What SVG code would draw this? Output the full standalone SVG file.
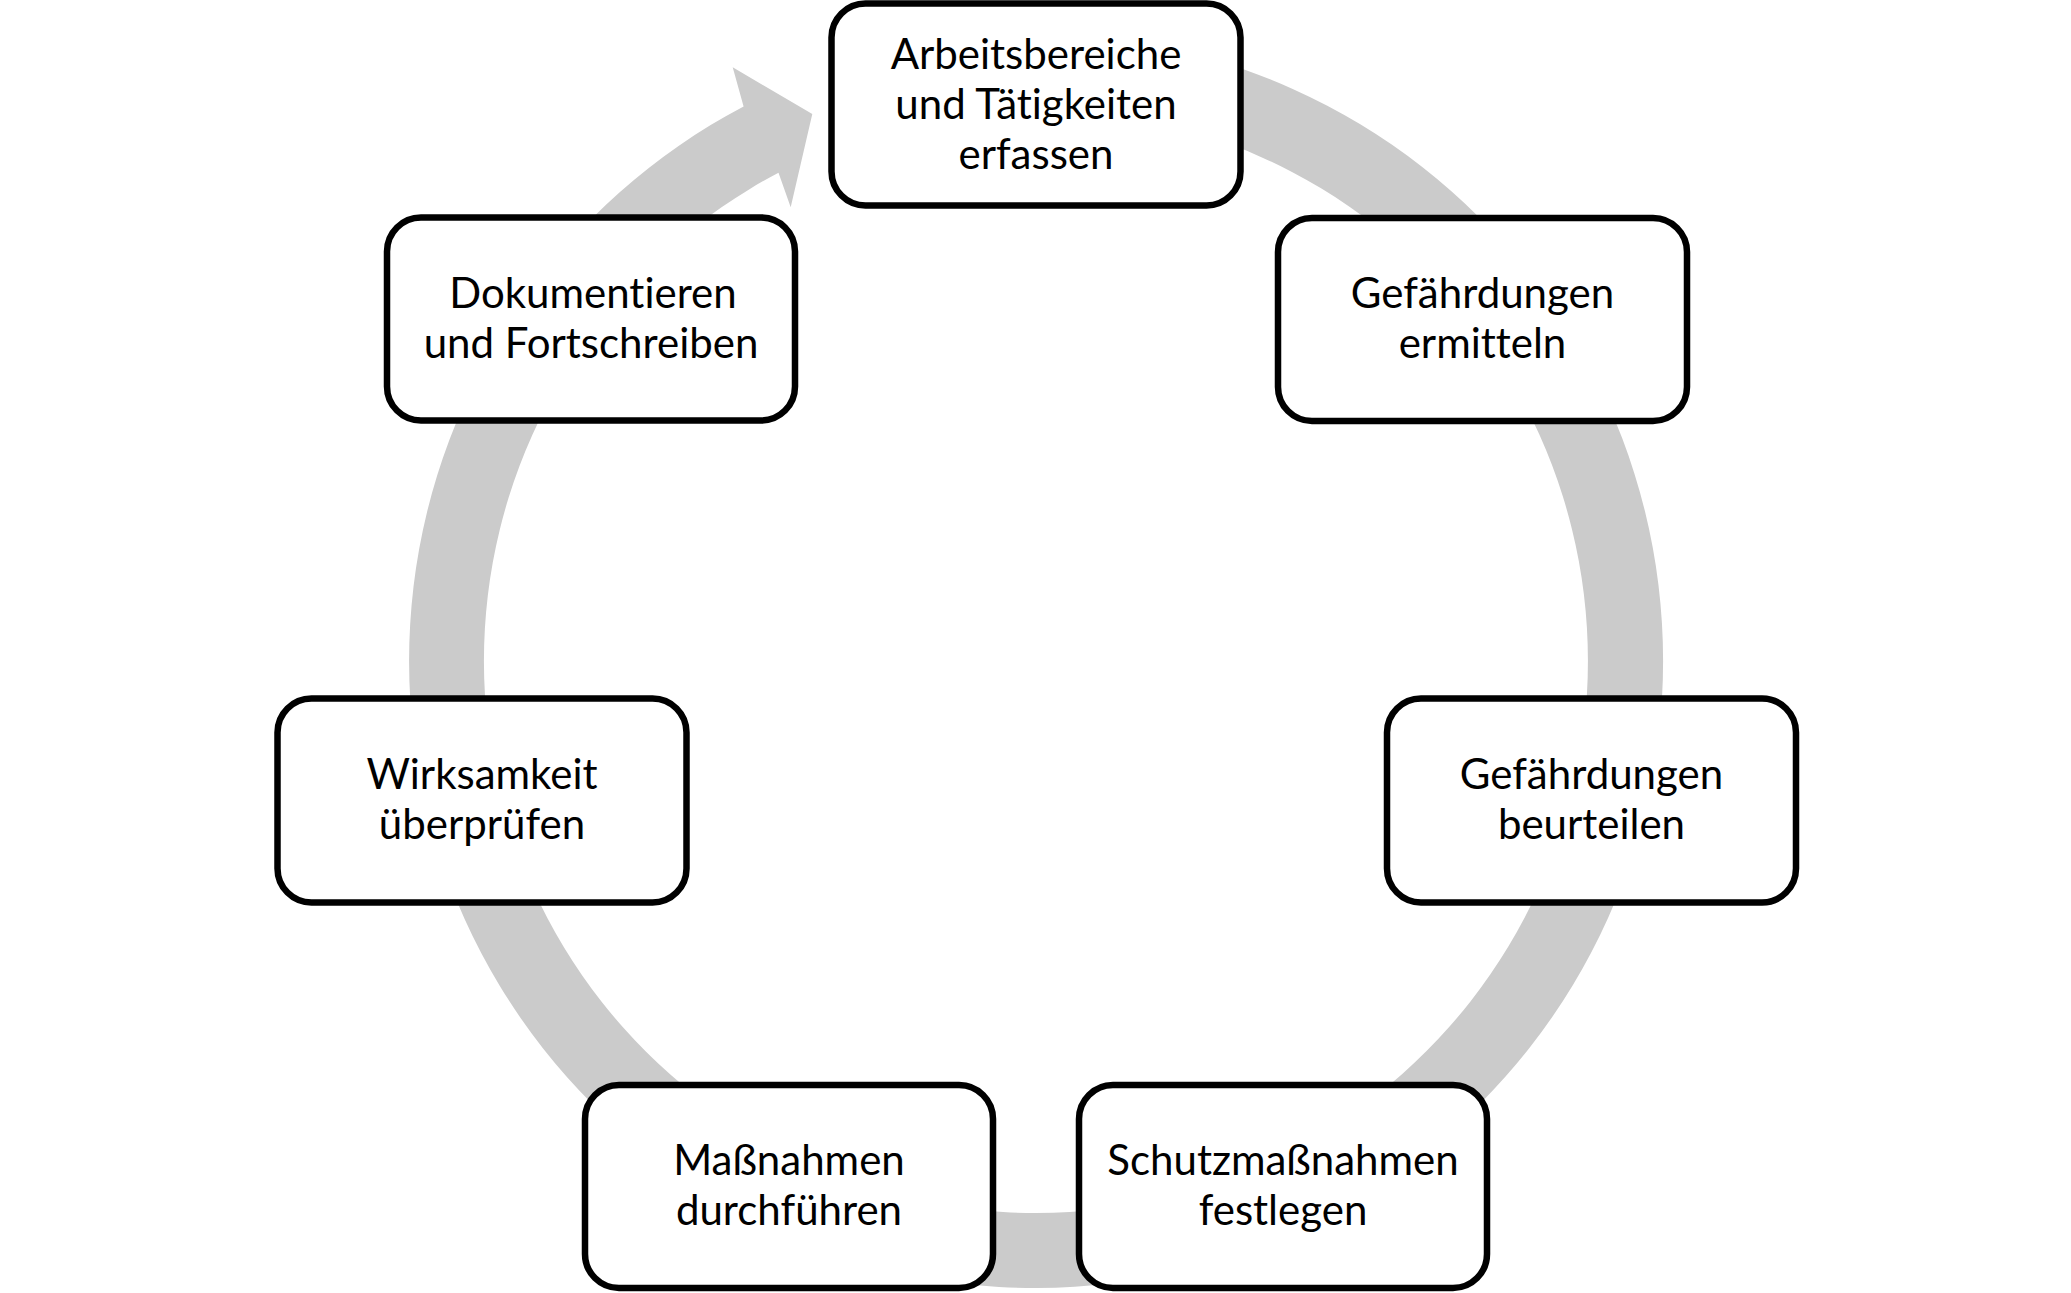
<svg xmlns="http://www.w3.org/2000/svg" width="2071" height="1293" viewBox="0 0 2071 1293">
<style>
.node rect{fill:#ffffff;stroke:#000000;stroke-width:6.5}
.node text{font-family:Lato,"Open Sans","Liberation Sans",sans-serif;font-size:42px;fill:#000000;text-anchor:middle;font-variant-ligatures:none;font-feature-settings:"liga" 0,"dlig" 0}
.ring{fill:#cbcbcb;stroke:none}
</style>
<rect x="0" y="0" width="2071" height="1293" fill="#ffffff"/>
<g id="connectors">
<path class="ring" d="M 1036 34 A 627 627 0 1 1 743.6 106.4 L 732.7 67.3 L 812.3 114 L 790.7 207.3 L 778.5 172.7 A 552 552 0 1 0 1036 109 Z"/>
</g>
<g id="node1" class="node">
<rect x="831.5" y="3.5" width="409" height="202" rx="34"/>
<text x="1036" y="69">Arbeitsbereiche</text>
<text x="1036" y="119">und Tätigkeiten</text>
<text x="1036" y="169">erfassen</text>
</g>
<g id="node2" class="node">
<rect x="1278" y="218" width="409" height="203" rx="34"/>
<text x="1482.5" y="307.5">Gefährdungen</text>
<text x="1482.5" y="357.5">ermitteln</text>
</g>
<g id="node3" class="node">
<rect x="1387" y="698.5" width="409" height="204" rx="34"/>
<text x="1591.5" y="788.5">Gefährdungen</text>
<text x="1591.5" y="838.5">beurteilen</text>
</g>
<g id="node4" class="node">
<rect x="1079" y="1085" width="408" height="203" rx="34"/>
<text x="1283" y="1174.5">Schutzmaßnahmen</text>
<text x="1283" y="1224.5">festlegen</text>
</g>
<g id="node5" class="node">
<rect x="585" y="1085" width="408" height="203" rx="34"/>
<text x="789" y="1174.5">Maßnahmen</text>
<text x="789" y="1224.5">durchführen</text>
</g>
<g id="node6" class="node">
<rect x="277.5" y="698.5" width="409" height="204" rx="34"/>
<text x="482" y="788.5">Wirksamkeit</text>
<text x="482" y="838.5">überprüfen</text>
</g>
<g id="node7" class="node">
<rect x="387" y="217.5" width="408" height="203" rx="34"/>
<text x="593" y="307.5">Dokumentieren</text>
<text x="591" y="357.5">und Fortschreiben</text>
</g>
</svg>
